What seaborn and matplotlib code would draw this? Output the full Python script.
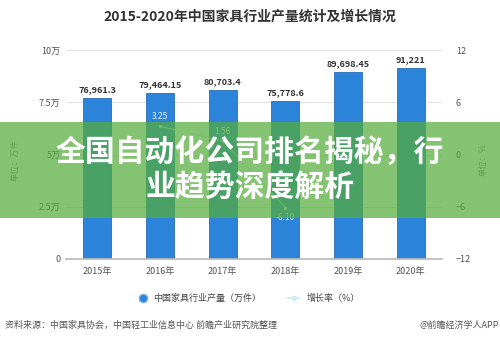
import matplotlib
matplotlib.use("Agg")
import matplotlib.pyplot as plt
import seaborn as sns
import numpy as np
import pandas as pd
from matplotlib.patches import Rectangle
from matplotlib.lines import Line2D

years = ["2015年", "2016年", "2017年", "2018年", "2019年", "2020年"]
output = [76961.3, 79464.15, 80703.4, 75778.6, 89698.45, 91221]
output_labels = ["76,961.3", "79,464.15", "80,703.4", "75,778.6", "89,698.45", "91,221"]
growth = [np.nan, 3.25, 1.56, -6.10, np.nan, np.nan]
left_ticks = [0, 25000, 50000, 75000, 100000]
left_ticklabels = ["0", "2.5万", "5万", "7.5万", "10万"]
right_ticks = [-12, -6, 0, 6, 12]

sns.set_theme(style="white")
plt.rcParams['font.family'] = ['Noto Sans CJK SC', 'DejaVu Sans']

fig = plt.figure(figsize=(5, 3.44), dpi=100)
ax = fig.add_axes([66/500, 1-259/344, (442-66)/500, (259-50)/344])

df = pd.DataFrame({"year": years, "output": output})
BLUE = "#2b84d9"
LINEC = "#cdeef2"
sns.barplot(data=df, x="year", y="output", color=BLUE, width=0.45, ax=ax,
            edgecolor="#2a6fb8", linewidth=0.6, saturation=1, zorder=2)
ax.set_xlim(-0.5, 5.5)
ax.set_ylim(0, 100000)
ax.set_yticks(left_ticks)
ax.set_yticklabels(left_ticklabels)
ax.set_xlabel("")
ax.set_ylabel("")
ax.yaxis.grid(True, color="#e3e3e3", linewidth=0.8, zorder=0)
ax.set_axisbelow(True)
for s in ["top", "right", "left"]:
    ax.spines[s].set_visible(False)
ax.spines["bottom"].set_color("#bbbbbb")
ax.tick_params(axis="both", labelsize=6.5, colors="#555555", length=0, pad=4)
ax.tick_params(axis="x", length=3, color="#cccccc", pad=3)

for i, (v, lab) in enumerate(zip(output, output_labels)):
    ax.text(i, v + 1800, lab, ha="center", va="bottom", fontsize=6.5,
            color="#333333", fontweight="bold",
            bbox=dict(boxstyle="square,pad=0.15", fc="white", ec="none"), zorder=5)

ax2 = ax.twinx()
ax2.set_ylim(-12, 12)
ax2.set_yticks(right_ticks)
for s in ["top", "right", "left", "bottom"]:
    ax2.spines[s].set_visible(False)
ax2.tick_params(axis="y", labelsize=6.5, colors="#555555", length=0, pad=10)
xs = np.arange(len(years))
ax2.plot(xs, growth, color=LINEC, linewidth=0.7, marker="o", markersize=1.5, zorder=4, alpha=0.8)
for x, g in zip(xs, growth):
    if not np.isnan(g):
        off = 1.1 if g >= 0 else -1.1
        ax2.text(x, g + off, f"{g:.2f}", ha="center", va="center", fontsize=6,
                 color="#e8f0fa", zorder=6)

fig.text(0.5, 1-17/344, "2015-2020年中国家具行业产量统计及增长情况", ha="center", va="center",
         fontsize=10, fontweight="bold", color="#333333")
fig.text(15/500, 1-160/344, "单位：万件", rotation=90, ha="center", va="center",
         fontsize=6, color="#888888")
fig.text(483/500, 1-160/344, "单位：%", rotation=90, ha="center", va="center",
         fontsize=6, color="#888888")

# legend
ly = 1-298/344
fig.add_artist(Line2D([143/500], [ly], marker="o", markersize=6, color=BLUE,
                      markeredgecolor="#7fb2e5", linestyle="none", transform=fig.transFigure))
fig.text(153/500, ly, "中国家具行业产量（万件）", ha="left", va="center", fontsize=6.5, color="#444444")
fig.add_artist(Line2D([287/500, 300/500], [ly, ly], color=LINEC, linewidth=1.2,
                      transform=fig.transFigure))
fig.add_artist(Line2D([293.5/500], [ly], marker="o", markersize=3, color=LINEC,
                      linestyle="none", transform=fig.transFigure))
fig.text(307/500, ly, "增长率（%）", ha="left", va="center", fontsize=6.5, color="#444444")

fig.text(5/500, 1-325/344, "资料来源：中国家具协会，中国轻工业信息中心 前瞻产业研究院整理",
         ha="left", va="center", fontsize=6.5, color="#555555")
fig.text(499/500, 1-325/344, "@前瞻经济学人APP", ha="right", va="center",
         fontsize=6.5, color="#555555")

# overlay band
fig.add_artist(Rectangle((0, 1-218/344), 1, 96/344, transform=fig.transFigure,
                         facecolor="#55ad3a", alpha=0.72, edgecolor="none", zorder=20))
fig.text(0.5, 1-152/344, "全国自动化公司排名揭秘，行", ha="center", va="center",
         fontsize=21.5, fontweight="bold", color="white", zorder=21)
fig.text(0.5, 1-188/344, "业趋势深度解析", ha="center", va="center",
         fontsize=21.5, fontweight="bold", color="white", zorder=21)

fig.savefig("out.png", dpi=100)
